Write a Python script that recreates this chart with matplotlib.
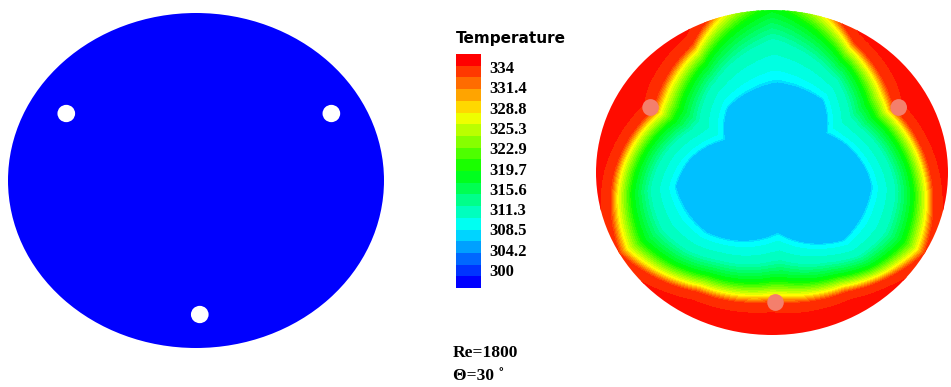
"""Plate temperature: initial state (left) vs. heated state (right), Re=1800."""

import numpy as np
import matplotlib

matplotlib.use("Agg")
import matplotlib.pyplot as plt
from matplotlib.colors import LinearSegmentedColormap, BoundaryNorm
from matplotlib.patches import Ellipse

# ---- data ------------------------------------------------------------------
T_MIN, T_MAX = 300.0, 334.0
N_BANDS = 20
BAR_LABELS = ["334", "331.4", "328.8", "325.3", "322.9", "319.7",
              "315.6", "311.3", "308.5", "304.2", "300"]

T_INITIAL = 300.0          # left plate is uniform

# holes, disk-normalised coordinates
HOLE_X = [-0.69, 0.72, 0.02]
HOLE_Y = [0.40, 0.40, -0.80]
HOLE_R = 0.047

# right plate: edge of the flat cold core, by polar angle (deg)
CORE_ANGLE = [0, 38, 57, 87, 122, 143, 170, 189, 225, 275, 314, 351]
CORE_RADIUS = [0.54, 0.39, 0.53, 0.55, 0.47, 0.33, 0.47, 0.55, 0.52, 0.37, 0.58, 0.57]
# radius where red starts, by polar angle (deg)
HOT_ANGLE = [0, 30, 60, 90, 120, 150, 180, 210, 240, 270, 300, 330]
HOT_RADIUS = [0.90, 0.80, 0.93, 1.25, 0.91, 0.78, 0.90, 1.0, 0.85, 0.80, 0.85, 1.0]
T_CORE = 306.5
# temperature across the band core edge (s=0) -> red onset (s=1)
PROFILE_S = [0.0, 0.05, 0.40, 0.68, 0.90, 1.0, 1.3]
PROFILE_T = [306.5, 308.5, 311.0, 317.0, 326.0, 332.0, 334.0]

cmap = LinearSegmentedColormap.from_list(
    "fluent", ["#0000ff", "#00ffff", "#00ff00", "#ffff00", "#ff0000"])

W, H = 951, 387
fig = plt.figure(figsize=(W / 100, H / 100), dpi=100)


def px_axes(x0, y0, x1, y1):
    """Axes from pixel box (top-left origin)."""
    return fig.add_axes([x0 / W, 1 - y1 / H, (x1 - x0) / W, (y1 - y0) / H])


def plate(ax):
    ax.set_xlim(-1, 1)
    ax.set_ylim(-1, 1)
    ax.set_axis_off()


# ---- left plate: initial uniform temperature -------------------------------
axl = px_axes(8, 13, 384, 348)
plate(axl)
norm = plt.Normalize(T_MIN, T_MAX)
axl.add_patch(Ellipse((0, 0), 2, 2, color=cmap(norm(T_INITIAL)), lw=0))
for hx, hy in zip(HOLE_X, HOLE_Y):
    axl.add_patch(Ellipse((hx, hy), 2 * HOLE_R, 2 * HOLE_R * 1.1,
                          color="white", lw=0))

# ---- right plate: heated state --------------------------------------------
axr = px_axes(596, 10, 948, 335)
plate(axr)
u, v = np.meshgrid(np.linspace(-1, 1, 600), np.linspace(-1, 1, 600))
r = np.hypot(u, v)
th = np.degrees(np.arctan2(v, u)) % 360
rc = np.interp(th, CORE_ANGLE, CORE_RADIUS, period=360)
rh = np.interp(th, HOT_ANGLE, HOT_RADIUS, period=360)
s = (r - rc) / (rh - rc)
temp = np.interp(s, PROFILE_S, PROFILE_T, left=T_CORE, right=T_MAX)
cs = axr.contourf(u, v, temp, levels=np.linspace(T_MIN, T_MAX, 35),
                  cmap=cmap, norm=norm)
cs.set_clip_path(Ellipse((0, 0), 2, 2, transform=axr.transData))
for hx, hy in zip(HOLE_X, HOLE_Y):
    axr.add_patch(Ellipse((hx, hy), 2 * HOLE_R, 2 * HOLE_R * 1.1,
                          color="#f47f6c", lw=0))

# ---- colour bar ------------------------------------------------------------
cax = px_axes(456, 54, 481, 288)
bounds = np.linspace(T_MIN, T_MAX, N_BANDS + 1)
mids = 0.5 * (bounds[:-1] + bounds[1:])
cax.pcolormesh([0, 1], bounds, mids[:, None], cmap=cmap,
               norm=BoundaryNorm(bounds, 256))
cax.set_xlim(0, 1)
cax.set_ylim(T_MIN, T_MAX)
cax.set_axis_off()
for lab, yf in zip(BAR_LABELS, np.linspace(0.936, 0.068, len(BAR_LABELS))):
    cax.text(1.35, yf, lab, transform=cax.transAxes, va="center", ha="left",
             family="Liberation Serif", weight="bold", fontsize=12)

fig.text(456 / W, 1 - 38 / H, "Temperature", va="center", ha="left",
         family="DejaVu Sans", weight="bold", fontsize=11)
fig.text(453 / W, 1 - 353 / H, "Re=1800", va="center", ha="left",
         family="Liberation Serif", weight="bold", fontsize=12.5)
fig.text(453 / W, 1 - 376 / H, "\u0398=30 \u02da", va="center", ha="left",
         family="Liberation Serif", weight="bold", fontsize=12.5)

fig.savefig("out.png", dpi=100)
